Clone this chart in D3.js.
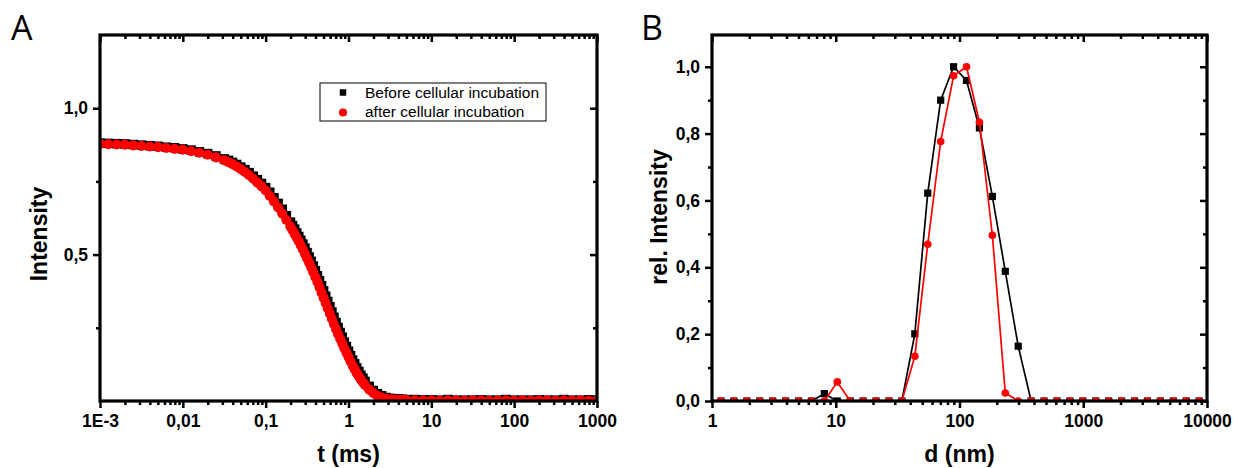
<!DOCTYPE html>
<html><head><meta charset="utf-8">
<script src="https://cdn.jsdelivr.net/npm/d3@7"></script>
<style>body{margin:0;background:#fff}svg{display:block}</style>
</head><body><svg id="c" width="1235" height="468"></svg>
<script>
// ---------- Panel A: correlation curve ----------
const tA = [0.001,0.001259,0.001585,0.001995,0.002512,0.003162,0.003981,0.005012,0.00631,0.007943,
  0.01,0.01259,0.01585,0.01995,0.02512,0.03162,
  0.03548,0.03981,0.04467,0.05012,0.05623,0.0631,0.07079,0.07943,0.08913,0.1,
  0.1122,0.1259,0.1413,0.1585,0.1778,0.1995,0.2239,0.2512,0.2818,0.3162,
  0.3548,0.3981,0.4467,0.5012,0.5623,0.631,0.7079,0.7943,0.8913,1,
  1.122,1.259,1.413,1.585,1.778,1.995,2.239,2.512,2.818,3.162,
  3.548,3.981,4.467,5.012,
  6.31,7.943,10,12.59,15.85,19.95,25.12,31.62,39.81,50.12,63.1,79.43,100,125.9,158.5,199.5,251.2,316.2,398.1,501.2,631,794.3,1000,
  // extra channels in the steep part
  0.2113,0.2371,0.2661,0.2985,0.335,0.3758,0.4217,0.4732,0.5309,0.5957,0.6683,0.7499,0.8414,0.9441,1.059,1.189,1.334,1.496];
const beforeA = [0.881,0.880,0.879,0.878,0.876,0.874,0.872,0.870,0.867,0.865,0.861,0.857,0.851,0.845,0.837,0.827,
  0.822,0.815,0.808,0.799,0.790,0.780,0.768,0.756,0.743,0.729,
  0.713,0.694,0.675,0.655,0.633,0.611,0.587,0.562,0.536,0.507,
  0.477,0.445,0.411,0.376,0.340,0.304,0.268,0.234,0.201,0.170,
  0.140,0.113,0.088,0.067,0.050,0.036,0.025,0.018,0.012,0.009,
  0.008,0.007,0.006,0.005,
  0.005,0.004,0.004,0.003,0.005,0.003,0.003,0.003,0.004,0.003,0.003,0.005,0.003,0.003,0.003,0.004,0.003,0.003,0.005,0.003,0.003,0.004,0.003,
  0.599,0.574,0.549,0.522,0.492,0.461,0.428,0.394,0.358,0.322,0.286,0.251,0.218,0.186,0.155,0.127,0.101,0.078];
const afterA = [0.878,0.877,0.876,0.875,0.873,0.871,0.869,0.867,0.864,0.861,0.858,0.853,0.848,0.841,0.832,0.822,
  0.816,0.809,0.801,0.792,0.782,0.771,0.759,0.746,0.733,0.719,
  0.700,0.681,0.661,0.640,0.618,0.595,0.570,0.545,0.517,0.487,
  0.456,0.423,0.388,0.352,0.316,0.280,0.245,0.212,0.180,0.150,
  0.121,0.095,0.073,0.054,0.039,0.027,0.018,0.012,0.008,0.006,
  0.005,0.004,0.004,0.003,
  0.002,0.002,0.002,0.001,0.002,0.002,0.001,0.002,0.002,0.001,0.002,0.002,0.001,0.002,0.001,0.002,0.002,0.001,0.002,0.001,0.002,0.001,0.001,
  0.583,0.558,0.531,0.502,0.472,0.440,0.406,0.370,0.334,0.298,0.262,0.228,0.196,0.165,0.135,0.108,0.084,0.063];
const tTicksA = [0.001,0.01,0.1,1,10,100,1000];
const tTickLabelsA = ["1E-3","0,01","0,1","1","10","100","1000"];
const yTicksA = [0.5,1.0];
const yTickLabelsA = ["0,5","1,0"];
const yMinorA = [0.25,0.75];

// ---------- Panel B: size distribution ----------
const dB = [1.182,1.503,1.912,2.431,3.093,3.933,5.003,6.362,8.091,10.29,13.09,16.64,21.17,26.92,34.23,43.55,55.39,70.44,89.59,113.9,
  144.9,184.3,234.4,298.2,379.2,482.3,613.4,780.2,992,1262,1605,2041,2596,3302,4199,5341,6792,8638];
const beforeB = [0,0,0,0,0,0,0,0,0.022,0,0,0,0,0,0,0.201,0.622,0.900,1.0,0.959,
  0.817,0.612,0.388,0.164,0,0,0,0,0,0,0,0,0,0,0,0,0,0];
const afterB = [0,0,0,0,0,0,0,0,0,0.057,0,0,0,0,0,0.134,0.469,0.776,0.973,1.0,
  0.834,0.496,0.024,0,0,0,0,0,0,0,0,0,0,0,0,0,0,0];
const dTicksB = [1,10,100,1000,10000];
const dTickLabelsB = ["1","10","100","1000","10000"];
const yTicksB = [0,0.2,0.4,0.6,0.8,1.0];
const yTickLabelsB = ["0,0","0,2","0,4","0,6","0,8","1,0"];
const yMinorB = [0.1,0.3,0.5,0.7,0.9];

const legendLabels = ["Before cellular incubation","after cellular incubation"];

const svg = d3.select("#c");
const FONT = "'Liberation Sans', Arial, sans-serif";

function logMinor(dom){
  const out=[];
  for(let e=Math.round(Math.log10(dom[0])); e<Math.round(Math.log10(dom[1])); e++)
    for(let k=2;k<10;k++) out.push(k*Math.pow(10,e));
  return out;
}

function panel(o){
  const x = d3.scaleLog().domain(o.xDomain).range([o.left,o.right]);
  const y = d3.scaleLinear().domain(o.yDomain).range([o.bottom,o.top]);
  const g = svg.append("g");
  const cid = "clip"+o.id;
  g.append("clipPath").attr("id",cid).append("rect")
    .attr("x",o.left).attr("y",o.top).attr("width",o.right-o.left).attr("height",o.bottom-o.top);
  const data = g.append("g").attr("clip-path",`url(#${cid})`);
  o.draw(data,x,y);

  const tickStyle = sel => { sel.select(".domain").remove(); sel.selectAll("line").attr("stroke","#000").attr("stroke-width",2.5); };
  const minorX = logMinor(o.xDomain);
  const MJ = 7, MN = 4;
  g.append("g").attr("transform",`translate(0,${o.bottom})`)
    .call(d3.axisBottom(x).tickValues(o.xTicks).tickSize(MJ).tickPadding(7).tickFormat((d,i)=>o.xLabels[i]))
    .call(tickStyle)
    .selectAll("text").attr("font-family",FONT).attr("font-weight","bold").attr("font-size",17.5).attr("fill","#000");
  g.append("g").attr("transform",`translate(0,${o.bottom})`)
    .call(d3.axisBottom(x).tickValues(minorX).tickSize(MN).tickFormat("")).call(tickStyle);
  g.append("g").attr("transform",`translate(0,${o.top})`)
    .call(d3.axisTop(x).tickValues(o.xTicks).tickSize(-MJ).tickFormat("")).call(tickStyle);
  g.append("g").attr("transform",`translate(0,${o.top})`)
    .call(d3.axisTop(x).tickValues(minorX).tickSize(-MN).tickFormat("")).call(tickStyle);
  g.append("g").attr("transform",`translate(${o.left},0)`)
    .call(d3.axisLeft(y).tickValues(o.yTicks).tickSize(MJ).tickPadding(5).tickFormat((d,i)=>o.yLabels[i]))
    .call(tickStyle)
    .selectAll("text").attr("font-family",FONT).attr("font-weight","bold").attr("font-size",17.5).attr("fill","#000");
  g.append("g").attr("transform",`translate(${o.left},0)`)
    .call(d3.axisLeft(y).tickValues(o.yMinor).tickSize(MN).tickFormat("")).call(tickStyle);
  g.append("g").attr("transform",`translate(${o.right},0)`)
    .call(d3.axisRight(y).tickValues(o.yTicks).tickSize(-MJ).tickFormat("")).call(tickStyle);
  g.append("g").attr("transform",`translate(${o.right},0)`)
    .call(d3.axisRight(y).tickValues(o.yMinor).tickSize(-MN).tickFormat("")).call(tickStyle);
  g.append("rect").attr("x",o.left).attr("y",o.top).attr("width",o.right-o.left).attr("height",o.bottom-o.top)
    .attr("fill","none").attr("stroke","#000").attr("stroke-width",3.2);
  g.append("text").attr("x",(o.left+o.right)/2).attr("y",462).attr("text-anchor","middle")
    .attr("font-family",FONT).attr("font-weight","bold").attr("font-size",23).text(o.xTitle);
  g.append("text").attr("transform",`translate(${o.yTitleX},${o.yTitleY}) rotate(-90)`).attr("text-anchor","middle")
    .attr("font-family",FONT).attr("font-weight","bold").attr("font-size",23).text(o.yTitle);
  g.append("text").attr("x",o.letterX).attr("y",40).attr("font-family","'Open Sans', sans-serif")
    .attr("font-weight",400).attr("font-size",34).text(o.letter);
  return {x,y,g};
}

const sq = d3.symbol().type(d3.symbolSquare);
const ci = d3.symbol().type(d3.symbolCircle);

const A = panel({id:"A", left:100,right:597,top:35,bottom:401,
  xDomain:[0.001,1000], yDomain:[0,1.25],
  xTicks:tTicksA, xLabels:tTickLabelsA, yTicks:yTicksA, yLabels:yTickLabelsA, yMinor:yMinorA,
  xTitle:"t (ms)", yTitle:"Intensity", yTitleX:47, yTitleY:234, letter:"A", letterX:11,
  draw:(g,x,y)=>{
    g.selectAll("path.b").data(tA).join("path").attr("class","b")
      .attr("transform",(d,i)=>`translate(${x(d)},${y(beforeA[i])})`).attr("d",sq.size(90)()).attr("fill","#000");
    g.selectAll("path.r").data(tA).join("path").attr("class","r")
      .attr("transform",(d,i)=>`translate(${x(d)},${y(afterA[i])})`).attr("d",ci.size(80)()).attr("fill","#ff0000");
  }});

const lg = A.g.append("g");
lg.append("rect").attr("x",320).attr("y",83).attr("width",226).attr("height",38).attr("fill","#fff").attr("stroke","#000").attr("stroke-width",1);
lg.append("path").attr("transform","translate(343,92.5)").attr("d",sq.size(42)()).attr("fill","#000");
lg.append("path").attr("transform","translate(343,112.5)").attr("d",ci.size(52)()).attr("fill","#ff0000");
lg.selectAll("text").data(legendLabels).join("text").attr("x",365).attr("y",(d,i)=>98+i*19)
  .attr("font-family",FONT).attr("font-size",15.5).text(d=>d);

panel({id:"B", left:712,right:1207,top:35,bottom:401,
  xDomain:[1,10000], yDomain:[0,1.095],
  xTicks:dTicksB, xLabels:dTickLabelsB, yTicks:yTicksB, yLabels:yTickLabelsB, yMinor:yMinorB,
  xTitle:"d (nm)", yTitle:"rel. Intensity", yTitleX:667, yTitleY:217, letter:"B", letterX:641,
  draw:(g,x,y)=>{
    const line = ys => d3.line().x((d,i)=>x(dB[i])).y((d,i)=>y(ys[i]))(dB);
    g.append("path").attr("d",line(beforeB)).attr("fill","none").attr("stroke","#000").attr("stroke-width",1.7);
    g.selectAll("path.b").data(dB).join("path").attr("class","b")
      .attr("transform",(d,i)=>`translate(${x(d)},${y(beforeB[i])})`).attr("d",sq.size(52)()).attr("fill","#000");
    g.append("path").attr("d",line(afterB)).attr("fill","none").attr("stroke","#ff0000").attr("stroke-width",1.7);
    g.selectAll("path.r").data(dB).join("path").attr("class","r")
      .attr("transform",(d,i)=>`translate(${x(d)},${y(afterB[i])})`).attr("d",ci.size(46)()).attr("fill","#ff0000");
  }});
</script></body></html>
